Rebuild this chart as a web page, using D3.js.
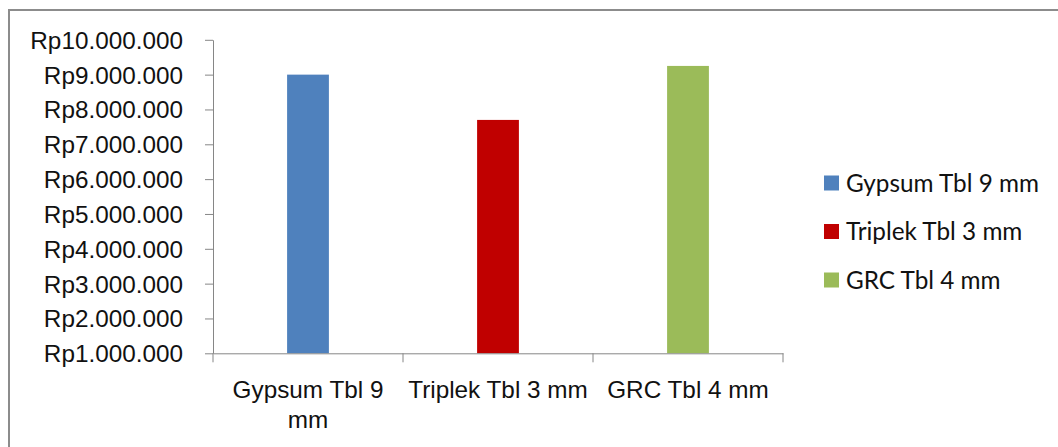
<!DOCTYPE html>
<html>
<head>
<meta charset="utf-8">
<script src="https://cdn.jsdelivr.net/npm/d3@7"></script>
<style>
  body { margin: 0; background: #fff; }
  svg { display: block; font-family: Lato, "Open Sans", sans-serif; }
</style>
</head>
<body>
<svg width="1058" height="447"></svg>
<script>
const categories = ['Gypsum Tbl 9 mm', 'Triplek Tbl 3 mm', 'GRC Tbl 4 mm'];
const prices = [9000000, 7700000, 9250000];
const colors = ['#4F81BD', '#C00000', '#9BBB59'];
const yTicks = [1000000, 2000000, 3000000, 4000000, 5000000, 6000000, 7000000, 8000000, 9000000, 10000000];

const FONT = '24.3px';
const svg = d3.select('svg');

// outer chart frame (goes off the right and bottom edges)
svg.append('rect')
    .attr('x', 9).attr('y', 10)
    .attr('width', 1100).attr('height', 500)
    .attr('fill', '#fff')
    .attr('stroke', '#8c8c8c')
    .attr('stroke-width', 2);

const PLOT = { left: 213, right: 783, top: 39.8, bottom: 353.3 };

const x = d3.scaleBand().domain(categories).range([PLOT.left, PLOT.right]).padding(0);
const y = d3.scaleLinear().domain([1000000, 10000000]).range([PLOT.bottom, PLOT.top]);

const idr = d3.formatLocale({ decimal: ',', thousands: '.', grouping: [3], currency: ['Rp', ''] });
const fmt = idr.format('$,.0f');

// y axis
const yAxis = svg.append('g')
    .attr('transform', `translate(${PLOT.left},0)`)
    .call(d3.axisLeft(y).tickValues(yTicks).tickFormat(fmt).tickSize(8).tickSizeOuter(0).tickPadding(22));
yAxis.select('.domain').attr('stroke', '#868686');
yAxis.selectAll('.tick line').attr('stroke', '#868686');
yAxis.selectAll('.tick text')
    .attr('fill', '#111')
    .style('font-size', FONT)
    .attr('dy', '0.35em');

// bars
const barW = x.bandwidth() * 0.22;
svg.selectAll('.bar')
    .data(categories)
    .enter()
    .append('rect')
    .classed('bar', true)
    .attr('x', d => x(d) + x.bandwidth() / 2 - barW / 2)
    .attr('y', (d, i) => y(prices[i]))
    .attr('width', barW)
    .attr('height', (d, i) => PLOT.bottom - y(prices[i]))
    .attr('fill', (d, i) => colors[i]);

// x axis
const xAxis = svg.append('g')
    .attr('transform', `translate(0,${PLOT.bottom})`)
    .call(d3.axisBottom(x).tickSize(0).tickSizeOuter(0).tickPadding(27));
xAxis.select('.domain').attr('stroke', '#868686');
xAxis.selectAll('.tick text')
    .attr('fill', '#111')
    .style('font-size', FONT)
    .call(wrap, x.bandwidth() - 4);

// tick marks between categories
xAxis.selectAll('.cat-tick')
    .data(categories.map(c => x(c)).concat([x.range()[1]]))
    .enter()
    .append('line')
    .attr('x1', d => d).attr('x2', d => d)
    .attr('y1', 0).attr('y2', 9)
    .attr('stroke', '#868686');

function wrap(texts, width) {
    texts.each(function () {
        const text = d3.select(this);
        const words = text.text().split(/\s+/);
        const yy = text.attr('y');
        text.text(null);
        let line = [];
        let lineNo = 0;
        let tspan = text.append('tspan').attr('x', 0).attr('y', yy).attr('dy', '0.71em');
        words.forEach(w => {
            line.push(w);
            tspan.text(line.join(' '));
            if (tspan.node().getComputedTextLength() > width && line.length > 1) {
                line.pop();
                tspan.text(line.join(' '));
                line = [w];
                lineNo++;
                tspan = text.append('tspan').attr('x', 0).attr('y', yy)
                    .attr('dy', (0.71 + lineNo * 1.25) + 'em').text(w);
            }
        });
    });
}

// legend
const legend = svg.append('g').attr('transform', 'translate(824,183)');
const items = legend.selectAll('.item')
    .data(categories)
    .enter()
    .append('g')
    .attr('transform', (d, i) => `translate(0,${i * 48.5})`);
items.append('rect')
    .attr('x', 0).attr('y', -7.5)
    .attr('width', 15).attr('height', 15)
    .attr('fill', (d, i) => colors[i]);
items.append('text')
    .attr('x', 22).attr('y', 0)
    .attr('dy', '0.35em')
    .style('font-size', FONT)
    .attr('fill', '#111')
    .text(d => d);
</script>
</body>
</html>
